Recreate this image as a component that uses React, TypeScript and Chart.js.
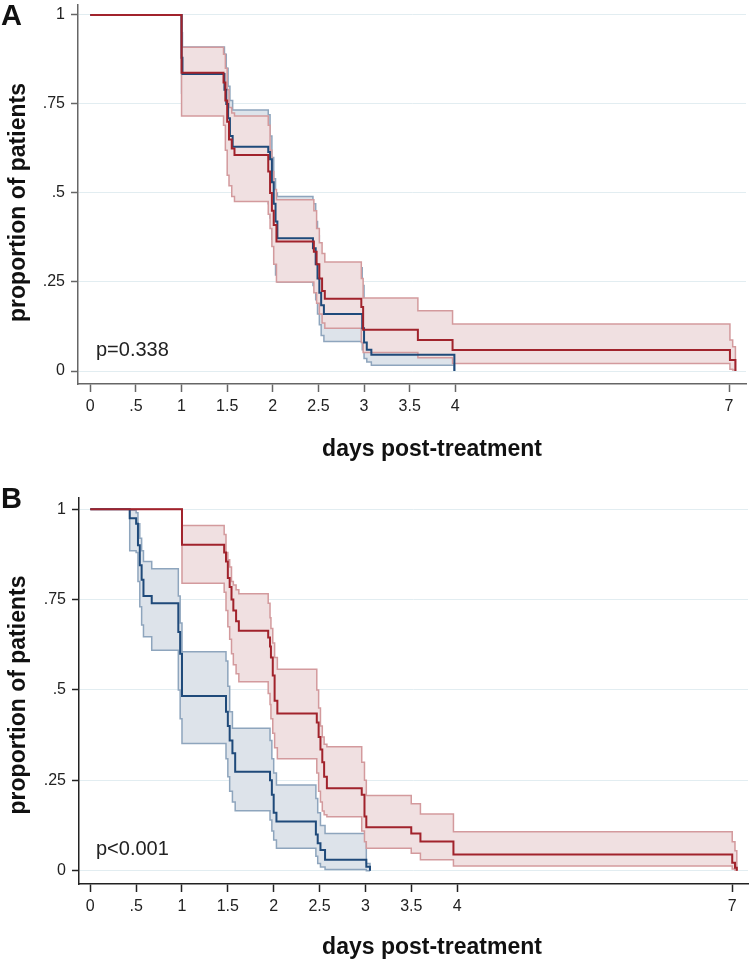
import React, { useEffect, useRef } from "react";
import { Chart, registerables } from "chart.js";

Chart.register(...registerables);

// ---------- axis ticks ----------
const X_TICKS = [0, 0.5, 1, 1.5, 2, 2.5, 3, 3.5, 4, 7];
const X_TICK_LABELS = ["0", ".5", "1", "1.5", "2", "2.5", "3", "3.5", "4", "7"];
const Y_TICKS = [0, 0.25, 0.5, 0.75, 1];
const Y_TICK_LABELS = ["0", ".25", ".5", ".75", "1"];

const X_TITLE = "days post-treatment";
const Y_TITLE = "proportion of patients";

// ---------- Panel A ----------
const A_RED_T = [0, 1.0, 1.46, 1.48, 1.5, 1.52, 1.55, 1.58, 1.95, 1.97, 1.99, 2.01, 2.04, 2.45, 2.48, 2.51, 2.54, 2.57, 2.97, 2.99, 3.59, 3.97, 7.01, 7.04, 7.07];
const A_RED_S = [1, 0.838, 0.81, 0.76, 0.7, 0.65, 0.625, 0.607, 0.56, 0.5, 0.45, 0.41, 0.364, 0.335, 0.3, 0.26, 0.225, 0.203, 0.18, 0.116, 0.087, 0.059, 0.031, 0.031, 0];
const A_RED_UP = [1, 0.909, 0.89, 0.85, 0.79, 0.74, 0.725, 0.716, 0.69, 0.62, 0.56, 0.51, 0.481, 0.45, 0.4, 0.36, 0.33, 0.306, 0.26, 0.205, 0.169, 0.132, 0.087, 0.068, 0];
const A_RED_LO = [1, 0.716, 0.69, 0.62, 0.55, 0.52, 0.49, 0.476, 0.44, 0.4, 0.35, 0.3, 0.25, 0.22, 0.19, 0.16, 0.135, 0.12, 0.08, 0.052, 0.037, 0.021, 0.005, 0.003, 0];

const A_BLUE_T = [0, 1.0, 1.01, 1.47, 1.49, 1.51, 1.53, 1.56, 1.95, 1.97, 1.99, 2.01, 2.03, 2.05, 2.44, 2.47, 2.49, 2.51, 2.53, 2.56, 2.98, 3.0, 3.03, 3.08, 3.99];
const A_BLUE_S = [1, 0.88, 0.834, 0.79, 0.75, 0.71, 0.66, 0.63, 0.615, 0.595, 0.53, 0.47, 0.42, 0.373, 0.345, 0.3, 0.26, 0.22, 0.185, 0.16, 0.12, 0.08, 0.06, 0.046, 0];
const A_BLUE_UP = [1, 0.95, 0.91, 0.89, 0.85, 0.8, 0.76, 0.733, 0.72, 0.66, 0.6, 0.54, 0.5, 0.49, 0.47, 0.42, 0.38, 0.34, 0.31, 0.29, 0.24, 0.18, 0.15, 0.125, 0];
const A_BLUE_LO = [1, 0.78, 0.73, 0.69, 0.63, 0.57, 0.53, 0.5, 0.47, 0.43, 0.37, 0.31, 0.27, 0.25, 0.24, 0.2, 0.16, 0.13, 0.1, 0.083, 0.06, 0.035, 0.025, 0.016, 0];

// ---------- Panel B ----------
const B_RED_T = [0, 1.0, 1.46, 1.48, 1.5, 1.52, 1.54, 1.56, 1.59, 1.62, 1.94, 1.96, 1.97, 1.99, 2.01, 2.04, 2.47, 2.49, 2.51, 2.53, 2.55, 2.58, 2.96, 2.99, 3.01, 3.5, 3.6, 3.96, 7.0, 7.03, 7.05];
const B_RED_S = [1, 0.902, 0.88, 0.855, 0.81, 0.785, 0.75, 0.72, 0.69, 0.664, 0.645, 0.62, 0.59, 0.54, 0.47, 0.435, 0.41, 0.37, 0.335, 0.3, 0.26, 0.228, 0.21, 0.15, 0.12, 0.103, 0.081, 0.045, 0.022, 0.008, 0];
const B_RED_UP = [1, 0.955, 0.93, 0.88, 0.86, 0.84, 0.8, 0.79, 0.777, 0.766, 0.74, 0.7, 0.67, 0.63, 0.59, 0.557, 0.5, 0.45, 0.4, 0.37, 0.35, 0.343, 0.3, 0.25, 0.208, 0.185, 0.157, 0.108, 0.08, 0.055, 0];
const B_RED_LO = [1, 0.795, 0.77, 0.72, 0.675, 0.64, 0.6, 0.57, 0.545, 0.523, 0.49, 0.46, 0.42, 0.38, 0.34, 0.31, 0.27, 0.22, 0.19, 0.165, 0.155, 0.149, 0.11, 0.08, 0.062, 0.048, 0.03, 0.013, 0.005, 0.002, 0];

const B_BLUE_T = [0, 0.43, 0.5, 0.52, 0.54, 0.56, 0.58, 0.67, 0.96, 0.98, 1.0, 1.48, 1.5, 1.52, 1.55, 1.58, 1.96, 1.98, 2.0, 2.03, 2.46, 2.48, 2.51, 2.56, 3.01, 3.05];
const B_BLUE_S = [1, 0.975, 0.96, 0.9, 0.845, 0.805, 0.76, 0.74, 0.66, 0.6, 0.483, 0.44, 0.4, 0.36, 0.325, 0.274, 0.25, 0.21, 0.16, 0.136, 0.1, 0.076, 0.057, 0.03, 0.011, 0];
const B_BLUE_UP = [1, 0.997, 0.99, 0.96, 0.92, 0.885, 0.855, 0.835, 0.76, 0.685, 0.606, 0.58, 0.51, 0.44, 0.394, 0.394, 0.36, 0.31, 0.27, 0.237, 0.2, 0.16, 0.125, 0.103, 0.02, 0];
const B_BLUE_LO = [1, 0.885, 0.88, 0.8, 0.73, 0.68, 0.647, 0.61, 0.5, 0.42, 0.352, 0.31, 0.26, 0.22, 0.19, 0.166, 0.14, 0.11, 0.085, 0.062, 0.04, 0.02, 0.01, 0.003, 0, 0];

// ---------- styles ----------
const RED = "#a1232c";
const BLUE = "#1f4a7a";
const RED_CI = "#d39a9d";
const BLUE_CI = "#8ea5bd";
const RED_FILL = "#f0e0e1";
const BLUE_FILL = "#dde3ea";
const GRID = "#e2edf1";
const FONT = "'Liberation Sans', Arial, Helvetica, sans-serif";

type Area = { left: number; right: number; top: number; bottom: number };

type PanelProps = {
  top: number;
  height: number;
  letter: string;
  letterBaseline: number;
  pText: string;
  redT: number[];
  redS: number[];
  redUp: number[];
  redLo: number[];
  blueT: number[];
  blueS: number[];
  blueUp: number[];
  blueLo: number[];
  area: Area;
  xRange: [number, number];
  yRange: [number, number];
  axisColor: string;
  xTitleY: number;
  xTitleX: number;
  yTitleX: number;
  yTitleY: number;
};

const pts = (t: number[], v: number[]) => t.map((x, i) => ({ x, y: v[i] }));

const panelText = {
  id: "panelText",
  afterDraw(chart: any, _args: any, opts: any) {
    const { ctx, scales } = chart;
    ctx.save();
    ctx.fillStyle = "#111";
    ctx.textAlign = "left";
    ctx.textBaseline = "alphabetic";
    ctx.font = `bold 29px ${FONT}`;
    ctx.fillText(opts.letter, 1, opts.letterBaseline);

    ctx.font = `bold 23px ${FONT}`;
    ctx.textAlign = "center";
    ctx.textBaseline = "middle";
    ctx.fillText(X_TITLE, opts.xTitleX, opts.xTitleY);

    ctx.save();
    ctx.translate(opts.yTitleX, opts.yTitleY);
    ctx.rotate(-Math.PI / 2);
    ctx.fillText(Y_TITLE, 0, 0);
    ctx.restore();

    ctx.fillStyle = "#222";
    ctx.font = `20px ${FONT}`;
    ctx.textAlign = "left";
    ctx.textBaseline = "alphabetic";
    ctx.fillText(opts.pText, scales.x.getPixelForValue(opts.pX), scales.y.getPixelForValue(opts.pY));
    ctx.restore();
  },
};

function Panel(p: PanelProps) {
  const ref = useRef<HTMLCanvasElement | null>(null);
  useEffect(() => {
    if (!ref.current) return;
    const ciLine = (color: string) => ({
      borderColor: color,
      borderWidth: 1.5,
      pointRadius: 0,
      stepped: "before" as const,
    });
    const chart = new Chart(ref.current, {
      type: "line",
      data: {
        datasets: [
          { label: "blueUp", data: pts(p.blueT, p.blueUp), ...ciLine(BLUE_CI), backgroundColor: BLUE_FILL, fill: "+1", order: 6 },
          { label: "blueLo", data: pts(p.blueT, p.blueLo), ...ciLine(BLUE_CI), fill: false, order: 5 },
          { label: "redUp", data: pts(p.redT, p.redUp), ...ciLine(RED_CI), backgroundColor: RED_FILL, fill: "+1", order: 4 },
          { label: "redLo", data: pts(p.redT, p.redLo), ...ciLine(RED_CI), fill: false, order: 3 },
          { label: "blue", data: pts(p.blueT, p.blueS), borderColor: BLUE, borderWidth: 2, pointRadius: 0, stepped: "before", fill: false, order: 2 },
          { label: "red", data: pts(p.redT, p.redS), borderColor: RED, borderWidth: 2, pointRadius: 0, stepped: "before", fill: false, order: 1 },
        ] as any,
      },
      options: {
        animation: false,
        responsive: false,
        devicePixelRatio: 1,
        events: [],
        layout: { padding: { left: 0, right: 750 - p.area.right, top: p.area.top, bottom: 0 } },
        plugins: {
          legend: { display: false },
          tooltip: { enabled: false },
          panelText: {
            letter: p.letter,
            letterBaseline: p.letterBaseline,
            pText: p.pText,
            pX: 0.062,
            pY: 0.043,
            xTitleX: p.xTitleX,
            xTitleY: p.xTitleY,
            yTitleX: p.yTitleX,
            yTitleY: p.yTitleY,
          },
        } as any,
        scales: {
          x: {
            type: "linear",
            min: p.xRange[0],
            max: p.xRange[1],
            afterBuildTicks: (s: any) => {
              s.ticks = X_TICKS.map((v) => ({ value: v }));
            },
            afterFit: (s: any) => {
              s.height = p.height - p.area.bottom;
              s.paddingLeft = 0;
              s.paddingRight = 0;
            },
            ticks: {
              autoSkip: false,
              maxRotation: 0,
              padding: 5,
              color: "#222",
              font: { family: FONT, size: 16 },
              callback: (v: any) => X_TICK_LABELS[X_TICKS.indexOf(Number(v))],
            },
            grid: { drawOnChartArea: false, color: p.axisColor, tickColor: p.axisColor, tickLength: 8, tickWidth: 1.5 },
            border: { color: p.axisColor, width: 1.5 },
          },
          y: {
            type: "linear",
            min: p.yRange[0],
            max: p.yRange[1],
            afterBuildTicks: (s: any) => {
              s.ticks = Y_TICKS.map((v) => ({ value: v }));
            },
            afterFit: (s: any) => {
              s.width = p.area.left;
              s.paddingTop = 0;
              s.paddingBottom = 0;
            },
            ticks: {
              autoSkip: false,
              padding: 6,
              color: "#222",
              font: { family: FONT, size: 16 },
              callback: (v: any) => Y_TICK_LABELS[Y_TICKS.indexOf(Number(v))],
            },
            grid: { color: GRID, lineWidth: 1, tickColor: p.axisColor, tickLength: 7, tickWidth: 1.5 },
            border: { color: p.axisColor, width: 1.5 },
          },
        },
      } as any,
      plugins: [panelText],
    });
    return () => chart.destroy();
  }, []);
  return (
    <canvas
      ref={ref}
      width={750}
      height={p.height}
      style={{ position: "absolute", left: 0, top: p.top, width: 750, height: p.height, display: "block" }}
    />
  );
}

export default function App() {
  return (
    <div style={{ position: "absolute", left: 0, top: 0, width: 750, height: 963, background: "#fff", overflow: "hidden" }}>
      <Panel
        top={0}
        height={478}
        letter="A"
        letterBaseline={25}
        pText="p=0.338"
        redT={A_RED_T}
        redS={A_RED_S}
        redUp={A_RED_UP}
        redLo={A_RED_LO}
        blueT={A_BLUE_T}
        blueS={A_BLUE_S}
        blueUp={A_BLUE_UP}
        blueLo={A_BLUE_LO}
        area={{ left: 78, right: 746, top: 5, bottom: 384 }}
        xRange={[-0.135, 7.186]}
        yRange={[-0.0365, 1.028]}
        axisColor="#666"
        xTitleX={432}
        xTitleY={450}
        yTitleX={18.5}
        yTitleY={202.5}
      />
      <Panel
        top={478}
        height={485}
        letter="B"
        letterBaseline={30}
        pText="p<0.001"
        redT={B_RED_T}
        redS={B_RED_S}
        redUp={B_RED_UP}
        redLo={B_RED_LO}
        blueT={B_BLUE_T}
        blueS={B_BLUE_S}
        blueUp={B_BLUE_UP}
        blueLo={B_BLUE_LO}
        area={{ left: 79, right: 748, top: 20, bottom: 406 }}
        xRange={[-0.123, 7.172]}
        yRange={[-0.0368, 1.031]}
        axisColor="#222"
        xTitleX={432}
        xTitleY={470}
        yTitleX={18.5}
        yTitleY={217}
      />
    </div>
  );
}
